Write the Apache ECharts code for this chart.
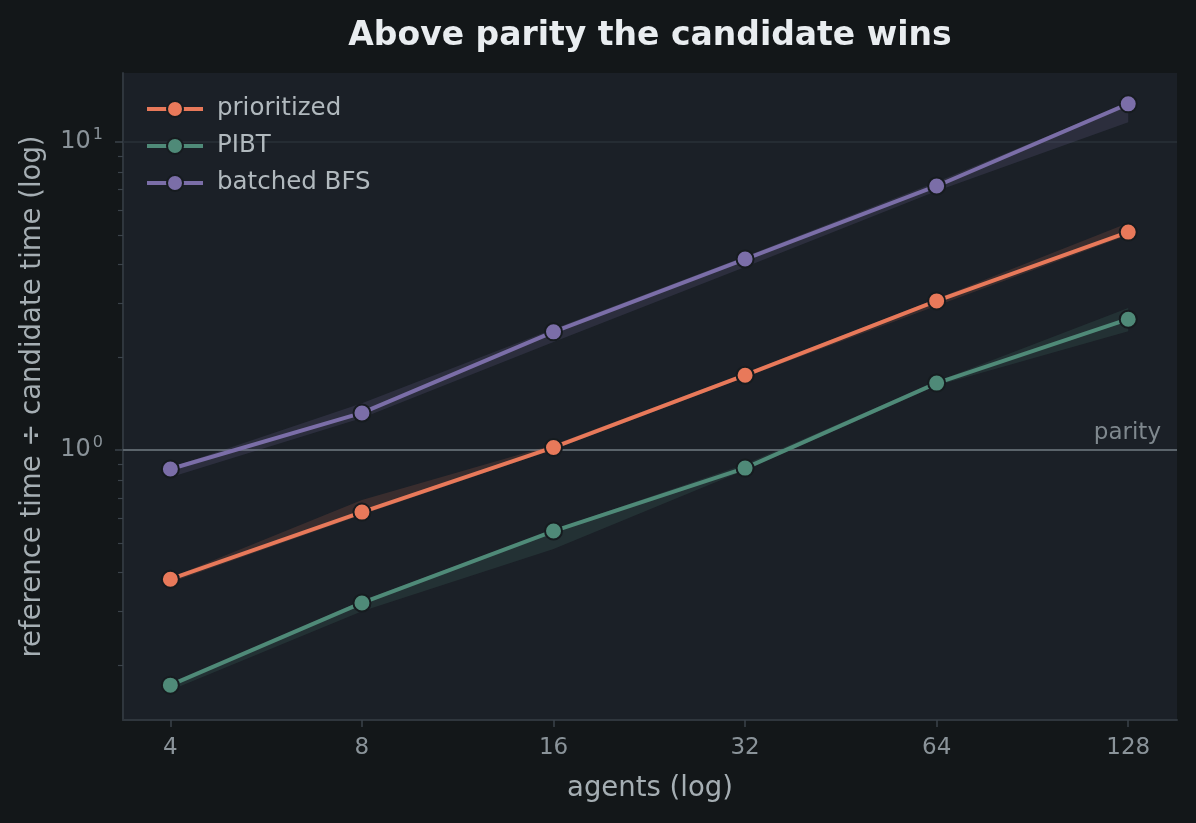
<!DOCTYPE html>
<html>
<head>
<meta charset="utf-8">
<script src="https://cdn.jsdelivr.net/npm/echarts@6/dist/echarts.min.js"></script>
<style>
html,body{margin:0;padding:0;background:#131719;}
#chart{width:1196px;height:823px;}
</style>
</head>
<body>
<div id="chart"></div>
<script>
const agents = [4, 8, 16, 32, 64, 128];
const seriesNames = ['prioritized', 'PIBT', 'batched BFS'];
const prioritized = [0.381, 0.629, 1.02, 1.75, 3.05, 5.10];
const prioritizedLo = [0.372, 0.617, 1.005, 1.724, 2.94, 4.99];
const prioritizedHi = [0.385, 0.688, 1.04, 1.776, 3.10, 5.46];
const pibt = [0.1726, 0.319, 0.546, 0.874, 1.65, 2.66];
const pibtLo = [0.166, 0.300, 0.477, 0.861, 1.62, 2.43];
const pibtHi = [0.174, 0.324, 0.551, 0.900, 1.67, 2.89];
const bfs = [0.868, 1.32, 2.42, 4.17, 7.20, 13.3];
const bfsLo = [0.817, 1.27, 2.245, 3.93, 6.94, 11.6];
const bfsHi = [0.877, 1.42, 2.47, 4.25, 7.42, 13.4];
const yMajorTicks = [1, 10];
const yMinorTicks = [0.2, 0.3, 0.4, 0.5, 0.6, 0.7, 0.8, 0.9, 2, 3, 4, 5, 6, 7, 8, 9];
const parityValue = 1;
const gridValue = 10;

const colors = ['#e8795a', '#4f8a78', '#7b6ea8'];
const bandColors = ['rgba(232,121,90,0.15)', 'rgba(79,138,120,0.17)', 'rgba(123,110,168,0.18)'];
const means = [prioritized, pibt, bfs];
const los = [prioritizedLo, pibtLo, bfsLo];
const his = [prioritizedHi, pibtHi, bfsHi];
const FONT = 'DejaVu Sans';

const chart = echarts.init(document.getElementById('chart'), null, {renderer: 'canvas'});

function bandSeries(i) {
  return {
    type: 'custom',
    name: seriesNames[i] + ' band',
    xAxisIndex: 0, yAxisIndex: 0,
    z: 2,
    silent: true,
    encode: {x: 0, y: [1, 2]},
    data: agents.map((a, k) => [a, los[i][k], his[i][k]]),
    renderItem: function (params, api) {
      if (params.dataIndex !== 0) return null;
      const pts = [];
      for (let k = 0; k < agents.length; k++) pts.push(api.coord([agents[k], his[i][k]]));
      for (let k = agents.length - 1; k >= 0; k--) pts.push(api.coord([agents[k], los[i][k]]));
      return {type: 'polygon', shape: {points: pts}, style: {fill: bandColors[i], stroke: null}};
    }
  };
}

function lineSeries(i) {
  return {
    type: 'line',
    name: seriesNames[i],
    xAxisIndex: 0, yAxisIndex: 0,
    z: 3,
    data: agents.map((a, k) => [a, means[i][k]]),
    symbol: 'circle',
    symbolSize: 17,
    showAllSymbol: true,
    lineStyle: {color: colors[i], width: 4},
    itemStyle: {color: colors[i], borderColor: '#161b1f', borderWidth: 2},
    emphasis: {disabled: true},
    animation: false
  };
}

const series = [bandSeries(0), bandSeries(1), bandSeries(2), lineSeries(0), lineSeries(1), lineSeries(2)];
series[0].markLine = {
  silent: true,
  symbol: 'none',
  z: 1,
  animation: false,
  data: [
    {yAxis: gridValue, lineStyle: {color: '#2a3138', width: 1.5, type: 'solid'}, label: {show: false}},
    {yAxis: parityValue, lineStyle: {color: '#5b646b', width: 2, type: 'solid'},
     label: {show: true, formatter: 'parity', position: 'insideEndTop', distance: 6, color: '#7f888e', fontSize: 23, fontFamily: FONT, padding: [0, 10, 0, 0]}}
  ]
};

const option = {
  backgroundColor: '#131719',
  animation: false,
  graphic: [{
    type: 'text', x: 650, y: 36, z: 10,
    style: {text: 'Above parity the candidate wins', align: 'center', verticalAlign: 'middle',
      fill: '#e9edf0', font: 'bold 33px "DejaVu Sans"'}
  }],
  grid: {left: 123, right: 19, top: 73, bottom: 103, show: true, backgroundColor: '#1b2027', borderWidth: 0},
  legend: {
    data: seriesNames,
    orient: 'vertical',
    left: 140, top: 91,
    itemWidth: 56, itemHeight: 20, itemGap: 11,
    lineStyle: {width: 4},
    textStyle: {color: '#b1b9be', fontSize: 24.5, fontFamily: FONT, lineHeight: 26, padding: [0, 0, 0, 9]},
    selectedMode: false
  },
  xAxis: [{
    type: 'log', logBase: 2, min: 3.37, max: 152.7,
    name: 'agents (log)', nameLocation: 'middle', nameGap: 55,
    nameTextStyle: {color: '#a5aeb3', fontSize: 27.5, fontFamily: FONT},
    axisLine: {show: true, lineStyle: {color: '#2f363d', width: 2}},
    axisTick: {show: true, length: 7, lineStyle: {color: '#3b434a', width: 1.5}, customValues: agents},
    axisLabel: {color: '#8a9399', fontSize: 23, fontFamily: FONT, margin: 17, customValues: agents,
      formatter: function (v) { return String(Math.round(v)); }},
    splitLine: {show: false},
    minorTick: {show: false}
  }],
  yAxis: [{
    type: 'log', logBase: 10, min: 0.133, max: 16.75,
    name: 'reference time ÷ candidate time (log)', nameLocation: 'middle', nameGap: 76,
    nameTextStyle: {color: '#a5aeb3', fontSize: 27.5, fontFamily: FONT},
    axisLine: {show: true, lineStyle: {color: '#2f363d', width: 2}},
    axisTick: {show: true, length: 8, lineStyle: {color: '#3b434a', width: 1.5}, customValues: yMajorTicks},
    axisLabel: {color: '#8a9399', fontSize: 24, fontFamily: FONT, margin: 20, customValues: yMajorTicks,
      formatter: function (v) { return '10{sup|' + Math.round(Math.log10(v)) + '}'; },
      rich: {sup: {fontSize: 16, color: '#8a9399', fontFamily: FONT, verticalAlign: 'top', padding: [0, 0, 14, 2]}}},
    splitLine: {show: false}
  }, {
    type: 'log', logBase: 10, min: 0.133, max: 16.75, position: 'left',
    axisLine: {show: false},
    axisTick: {show: true, length: 5, lineStyle: {color: '#3b434a', width: 1.2}, customValues: yMinorTicks},
    axisLabel: {show: false},
    splitLine: {show: false}
  }],
  series: series
};
chart.setOption(option);
</script>
</body>
</html>
